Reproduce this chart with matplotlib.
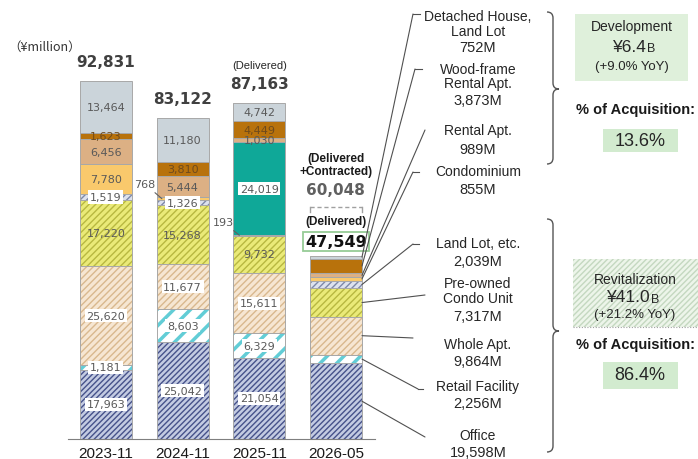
import matplotlib
matplotlib.use('Agg')
import matplotlib.pyplot as plt
import numpy as np
from matplotlib.lines import Line2D
from matplotlib.patches import Rectangle, PathPatch
from matplotlib.path import Path

# data (¥million)
periods = ['2023-11', '2024-11', '2025-11', '2026-05']
office = [17963, 25042, 21054, 19598]
retail = [1181, 8603, 6329, 2256]
whole_apt = [25620, 11677, 15611, 9864]
preowned = [17220, 15268, 9732, 7317]
landlot = [1519, 1326, 193, 2039]
condo = [7780, 768, 24019, 855]
rental = [6456, 5444, 1030, 989]
woodframe = [1623, 3810, 4449, 3873]
detached = [13464, 11180, 4742, 752]
totals = [92831, 83122, 87163, 47549]
contracted_total = 60048

right_names = ['Detached House,\nLand Lot', 'Wood-frame\nRental Apt.', 'Rental Apt.',
               'Condominium', 'Land Lot, etc.', 'Pre-owned\nCondo Unit', 'Whole Apt.',
               'Retail Facility', 'Office']

W, H = 698, 460


def fp(x, y):
    # pixel (from top-left) -> figure fraction
    return (x / W, 1 - y / H)


fig = plt.figure(figsize=(W / 100, H / 100), dpi=100)
ax = fig.add_axes([68 / W, 20 / H, (375 - 68) / W, 440 / H])

x = np.arange(len(periods))
bw = 0.68
teal = '#0fa898'
# name, values, face, hatch, hatch colour, white label box, text colour
layers = [
    ('office', office, '#c3cbe2', '//////', '#46528a', True, '#595959'),
    ('retail', retail, 'white', '//', '#62cdd6', True, '#595959'),
    ('whole', whole_apt, '#f6e6d2', '/////', '#d9b88e', True, '#595959'),
    ('preowned', preowned, '#eaea78', '/////', '#b8b840', False, '#595959'),
    ('landlot', landlot, '#dde2ee', '/////', '#7d88a8', True, '#595959'),
    ('condo', condo, ['#f9c96c', '#f9c96c', teal, '#f9c96c'], None, 'none', False, '#595959'),
    ('rental', rental, '#dcb084', None, 'none', False, '#595959'),
    ('wood', woodframe, '#b8720c', None, 'none', False, '#6e4a1c'),
    ('detached', detached, '#cbd4da', None, 'none', False, '#595959'),
]

bottom = np.zeros(len(periods))
mids = {}
for name, vals, fc, hatch, hc, boxed, tc in layers:
    vals = np.array(vals)
    bars = ax.bar(x, vals, bw, bottom=bottom, color=fc, hatch=hatch,
                  edgecolor=hc, linewidth=0)
    if name == 'retail':
        for b in bars:
            if hasattr(b, 'set_hatch_linewidth'):
                b.set_hatch_linewidth(2.5)
    ax.bar(x, vals, bw, bottom=bottom, fill=False, edgecolor='#a8a8a8', linewidth=0.7)
    mids[name] = bottom + vals / 2
    for i in range(3):
        if (name, i) in [('condo', 1), ('landlot', 2)]:
            continue
        box = boxed or (name == 'condo' and i == 2)
        ax.text(x[i], mids[name][i], f'{vals[i]:,}', ha='center', va='center',
                fontsize=8, color=tc,
                bbox=dict(boxstyle='square,pad=0.15', fc='white', ec='none') if box else None)
    bottom = bottom + vals

# small segments labelled outside
ax.annotate(f'{condo[1]:,}', xy=(1 - bw / 2 + 0.07, mids['condo'][1]), xytext=fp(145, 185),
            textcoords='figure fraction', ha='center', va='center', fontsize=8, color='#595959',
            arrowprops=dict(arrowstyle='-', color='#606060', lw=0.8, shrinkA=1, shrinkB=0))
ax.annotate(f'{landlot[2]:,}', xy=(2 - bw / 2 + 0.08, mids['landlot'][2]), xytext=fp(223, 223),
            textcoords='figure fraction', ha='center', va='center', fontsize=8, color='#595959',
            arrowprops=dict(arrowstyle='-', color='#606060', lw=0.8, shrinkA=1, shrinkB=0))

# totals
for i in range(3):
    ax.annotate(f'{totals[i]:,}', (x[i], totals[i]), xytext=(0, 14), textcoords='offset points',
                ha='center', va='center', fontsize=11, fontweight='bold', color='#404040')
ax.annotate('(Delivered)', (x[2], totals[2]), xytext=(0, 27), textcoords='offset points',
            ha='center', va='center', fontsize=8, color='#262626', family='Liberation Sans')

# 2026-05: delivered + contracted
ax.plot([x[3] - bw / 2, x[3] + bw / 2], [contracted_total] * 2, ls=(0, (3, 2)), color='#a0a0a0', lw=1)
for sx in (x[3] - bw / 2, x[3] + bw / 2):
    ax.plot([sx, sx], [contracted_total, contracted_total - 1300], color='#a0a0a0', lw=1)
ax.annotate(f'{contracted_total:,}', (x[3], contracted_total), xytext=(0, 13), textcoords='offset points',
            ha='center', va='center', fontsize=11, fontweight='bold', color='#606060')
ax.annotate('(Delivered\n+Contracted)', (x[3], contracted_total), xytext=(0, 31), textcoords='offset points',
            ha='center', va='center', fontsize=8.5, fontweight='bold', color='#1a1a1a',
            family='Liberation Sans', linespacing=1.05)
ax.annotate('(Delivered)', (x[3], totals[3]), xytext=(0, 25), textcoords='offset points',
            ha='center', va='center', fontsize=8.5, fontweight='bold', color='#1a1a1a',
            family='Liberation Sans')
ax.annotate(f'{totals[3]:,}', (x[3], totals[3]), xytext=(0, 10), textcoords='offset points',
            ha='center', va='center', fontsize=11.5, fontweight='bold', color='#111111',
            bbox=dict(boxstyle='square,pad=0.12', fc='white', ec='#96cc96', lw=1.3))

ax.set_xlim(-0.495, 3.51)
ax.set_ylim(0, 114080)
ax.set_xticks(x)
ax.set_xticklabels(periods, fontsize=11, family='Liberation Sans', color='#1a1a1a')
ax.tick_params(axis='x', length=0, pad=5)
ax.set_yticks([])
for s in ['top', 'left', 'right']:
    ax.spines[s].set_visible(False)
ax.spines['bottom'].set_color('#7f7f7f')
ax.patch.set_alpha(0)

fig.text(*fp(8, 47), '（¥million）', fontsize=9, color='#333333', va='center',
         family=['Noto Sans CJK JP', 'DejaVu Sans'])

# right side breakdown of 2026-05
right_vals = [detached[3], woodframe[3], rental[3], condo[3], landlot[3],
              preowned[3], whole_apt[3], retail[3], office[3]]
right_keys = ['detached', 'wood', 'rental', 'condo', 'landlot', 'preowned', 'whole', 'retail', 'office']
name_y = [24.5, 77, 131, 172, 244, 291.5, 345, 387, 436]
value_y = [48, 101, 150, 190, 262, 317, 362, 404, 453]
line_end = [(413, 15), (415, 70), (425, 131), (413, 173), (413, 245),
            (425, 296), (413, 339), (418, 390), (425, 438)]
hook = [7, 7, 0, 6, 6, 0, 0, 5, 0]
for k in range(len(right_names)):
    fig.text(*fp(478, name_y[k]), right_names[k], ha='center', va='center', fontsize=10,
             family='Liberation Sans', color='#262626', linespacing=1.05)
    fig.text(*fp(478, value_y[k]), f'{right_vals[k]:,}M', ha='center', va='center', fontsize=10.5,
             family='Liberation Sans', color='#262626')
    ex, ey = line_end[k]
    ax.annotate('', xy=(x[3] + bw / 2, mids[right_keys[k]][3]), xytext=fp(ex, ey),
                textcoords='figure fraction',
                arrowprops=dict(arrowstyle='-', color='#505050', lw=0.8, shrinkA=0, shrinkB=0))
    if hook[k]:
        fig.add_artist(Line2D([ex / W, (ex + hook[k]) / W], [1 - ey / H] * 2,
                              transform=fig.transFigure, color='#505050', lw=0.8))


def brace(x0, y_top, y_bot, y_mid, d=6, r=6):
    pts = [(x0, y_top), (x0 + d, y_top), (x0 + d, y_top + r),
           (x0 + d, y_mid - r), (x0 + d, y_mid), (x0 + 2 * d, y_mid),
           (x0 + d, y_mid), (x0 + d, y_mid + r),
           (x0 + d, y_bot - r), (x0 + d, y_bot), (x0, y_bot)]
    codes = [Path.MOVETO, Path.CURVE3, Path.CURVE3, Path.LINETO, Path.CURVE3, Path.CURVE3,
             Path.CURVE3, Path.CURVE3, Path.LINETO, Path.CURVE3, Path.CURVE3]
    path = Path([fp(px, py) for px, py in pts], codes)
    fig.add_artist(PathPatch(path, transform=fig.transFigure, fill=False, ec='#555555', lw=1))


brace(547, 13, 165, 90)
brace(547, 220, 453, 332)


def fig_box(x0, y0, x1, y1, **kw):
    fig.add_artist(Rectangle(fp(x0, y1), (x1 - x0) / W, (y1 - y0) / H,
                             transform=fig.transFigure, **kw))


# development summary
fig_box(575, 15, 688, 82, fc='#dff0db', ec='none')
fig.text(*fp(632, 27), 'Development', ha='center', va='center', fontsize=10,
         family='Liberation Sans', color='#262626')
fig.text(*fp(647, 47), '¥6.4', ha='right', va='center', fontsize=12.5,
         family='Liberation Sans', color='#262626')
fig.text(*fp(647, 49), 'B', ha='left', va='center', fontsize=9,
         family='Liberation Sans', color='#262626')
fig.text(*fp(632, 67), '(+9.0% YoY)', ha='center', va='center', fontsize=9.5,
         family='Liberation Sans', color='#262626')
fig.text(*fp(636, 110), '% of Acquisition:', ha='center', va='center', fontsize=10.5,
         fontweight='bold', family='Liberation Sans', color='#1a1a1a')
fig_box(603, 130, 678, 153, fc='#d2ebcf', ec='none')
fig.text(*fp(640, 141), '13.6%', ha='center', va='center', fontsize=13,
         family='Liberation Sans', color='#262626')

# revitalization summary
fig_box(573, 260, 698, 328, fc='#edf5ea', ec='#c4d8c0', hatch='//////', lw=0)
fig.add_artist(Line2D([573 / W, 1], [1 - 328 / H] * 2, transform=fig.transFigure,
                      color='#a0a0a0', lw=0.8, ls=(0, (1, 1.5))))
fig.text(*fp(635, 280), 'Revitalization', ha='center', va='center', fontsize=10,
         family='Liberation Sans', color='#262626')
fig.text(*fp(651, 298), '¥41.0', ha='right', va='center', fontsize=12.5,
         family='Liberation Sans', color='#262626')
fig.text(*fp(651, 300), 'B', ha='left', va='center', fontsize=9,
         family='Liberation Sans', color='#262626')
fig.text(*fp(635, 315), '(+21.2% YoY)', ha='center', va='center', fontsize=9.5,
         family='Liberation Sans', color='#262626')
fig.text(*fp(636, 345), '% of Acquisition:', ha='center', va='center', fontsize=10.5,
         fontweight='bold', family='Liberation Sans', color='#1a1a1a')
fig_box(603, 363, 678, 390, fc='#d2ebcf', ec='none')
fig.text(*fp(640, 376), '86.4%', ha='center', va='center', fontsize=13,
         family='Liberation Sans', color='#262626')

fig.savefig('out.png', dpi=100)
